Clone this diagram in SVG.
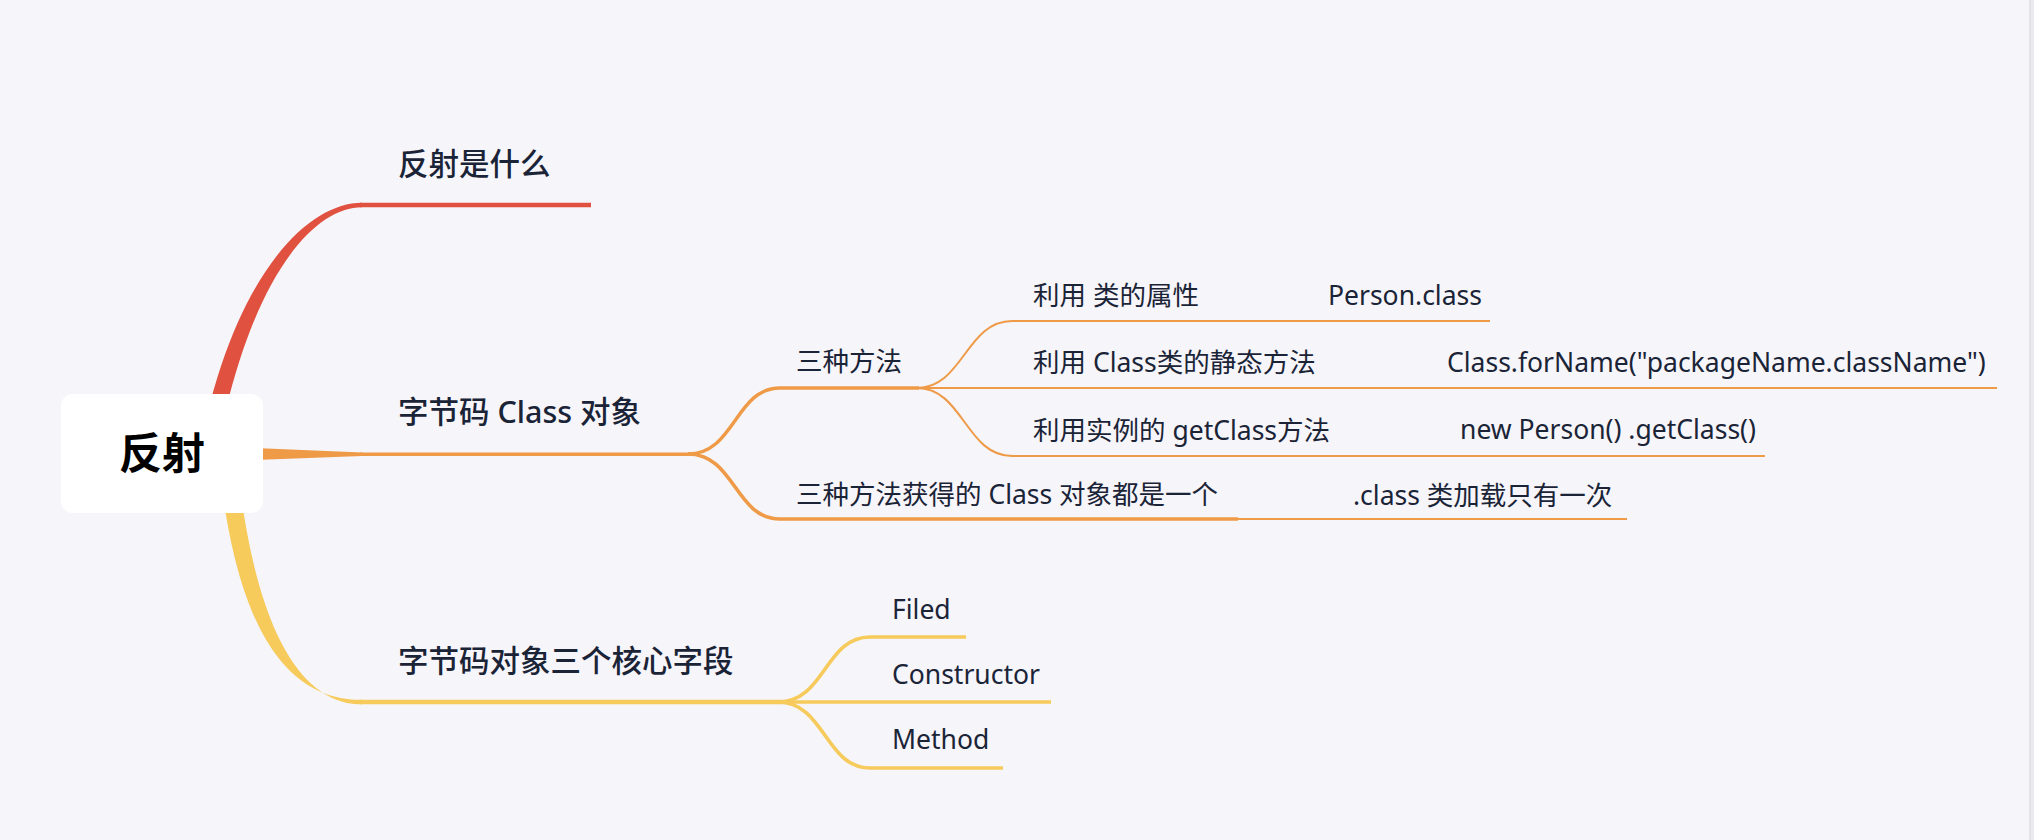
<svg xmlns="http://www.w3.org/2000/svg" width="2034" height="840" viewBox="0 0 2034 840">
<style>
.t{font-family:"Noto Sans","Noto Sans CJK SC",sans-serif;fill:#1b2437}
.l1{font-size:30.5px;font-weight:500}
.l2{font-size:26.5px;font-weight:400}
.root{font-family:"Noto Sans","Noto Sans CJK SC",sans-serif;font-size:43px;font-weight:700;fill:#000}
.red{fill:none;stroke:#e0513f;stroke-linecap:butt}
.org{fill:none;stroke:#ef9a47;stroke-linecap:butt}
.yel{fill:none;stroke:#f6ca5b;stroke-linecap:butt}
</style>
<rect x="0" y="0" width="2034" height="840" fill="#f5f5fa"/>
<rect x="2030" y="0" width="4" height="840" fill="#ebebef"/>
<line x1="2030" y1="0" x2="2030" y2="840" stroke="#d6d6da" stroke-width="1"/>
<g id="connectors">
  <!-- red branch -->
  <path d="M196 470 C226 288 302 202.75 362 202.75 L362 207.25 C308 207.25 243 292 214 470 Z" fill="#e0513f"/>
  <path class="red" d="M360 205 H591" stroke-width="4.5"/>
  <!-- orange branch -->
  <path d="M255 448 L362 452.5 L362 456 L255 460 Z" fill="#ef9a47"/>
  <path class="org" d="M360 454.3 H690" stroke-width="3.5"/>
  <path class="org" d="M688 454 C735 454 735 388 780 388 H919" stroke-width="3.4"/>
  <path class="org" d="M688 454 C735 454 735 519 780 519 H1238" stroke-width="3.6"/>
  <path class="org" d="M917 388 C963 388 966 321 1012 321 H1490" stroke-width="2"/>
  <path class="org" d="M917 388 H1997" stroke-width="2"/>
  <path class="org" d="M917 388 C963 388 966 456 1012 456 H1765" stroke-width="2"/>
  <path class="org" d="M1236 519 H1627" stroke-width="2"/>
  <!-- yellow branch -->
  <path d="M221 480 C243 662 306 699.8 362 699.8 L362 704.3 C314 704.3 261 658 239 480 Z" fill="#f6ca5b"/>
  <path class="yel" d="M360 702 H782" stroke-width="4.5"/>
  <path class="yel" d="M778 702 C825 702 825 637 870 637 H966" stroke-width="3.6"/>
  <path class="yel" d="M778 702 H1051" stroke-width="3.6"/>
  <path class="yel" d="M778 702 C825 702 825 768 870 768 H1003" stroke-width="3.6"/>
</g>
<g id="node-root">
  <rect x="61" y="394" width="202" height="119" rx="12" ry="12" fill="#ffffff"/>
  <text class="root" x="162" y="469" text-anchor="middle">反射</text>
</g>
<g id="node-what"><text class="t l1" x="398" y="175">反射是什么</text></g>
<g id="node-class"><text class="t l1" x="398" y="423">字节码 Class 对象</text></g>
<g id="node-fields"><text class="t l1" x="398" y="672">字节码对象三个核心字段</text></g>
<g id="node-three"><text class="t l2" x="796" y="371">三种方法</text></g>
<g id="node-same"><text class="t l2" x="796" y="504">三种方法获得的 Class 对象都是一个</text></g>
<g id="node-m1"><text class="t l2" x="1033" y="305">利用 类的属性</text></g>
<g id="node-m2"><text class="t l2" x="1033" y="372">利用 Class类的静态方法</text></g>
<g id="node-m3"><text class="t l2" x="1033" y="440">利用实例的 getClass方法</text></g>
<g id="node-m1a"><text class="t l2" x="1328" y="305">Person.class</text></g>
<g id="node-m2a"><text class="t l2" x="1447" y="372">Class.forName("packageName.className")</text></g>
<g id="node-m3a"><text class="t l2" x="1460" y="439">new Person() .getClass()</text></g>
<g id="node-once"><text class="t l2" x="1353" y="505">.class 类加载只有一次</text></g>
<g id="node-filed"><text class="t l2" x="892" y="619">Filed</text></g>
<g id="node-ctor"><text class="t l2" x="892" y="684">Constructor</text></g>
<g id="node-method"><text class="t l2" x="892" y="749">Method</text></g>
</svg>
